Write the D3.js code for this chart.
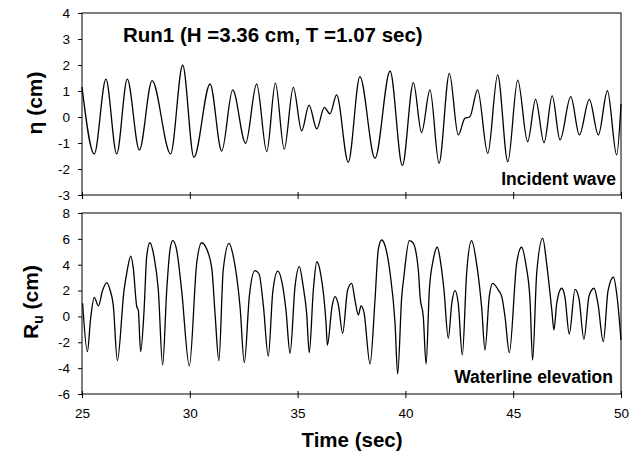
<!DOCTYPE html>
<html><head><meta charset="utf-8">
<script src="https://cdn.jsdelivr.net/npm/d3@7"></script>
<style>body{margin:0;background:#fff}svg{display:block}text{font-family:Arial,"Liberation Sans",sans-serif;fill:#000}</style>
</head><body><svg id="c" width="640" height="459"></svg>
<script>
// ---- data ----
const incidentTime = [25.0,25.57,26.11,26.61,27.10,27.66,28.25,29.11,29.67,30.19,30.94,31.48,31.99,32.59,33.10,33.57,33.97,34.38,34.80,35.19,35.53,35.89,36.24,36.50,36.81,37.35,37.89,38.59,39.29,39.86,40.37,40.75,41.14,41.56,42.04,42.45,42.76,42.99,43.35,43.82,44.28,44.75,45.21,45.67,46.04,46.43,46.81,47.17,47.67,48.07,48.53,48.95,49.37,49.80,50.0];
const incidentEta  = [1.15,-1.42,1.46,-1.42,1.46,-1.27,1.40,-1.42,2.0,-1.55,1.27,-1.31,1.04,-1.01,1.27,-1.33,1.30,-1.24,1.14,-0.53,0.46,-0.46,0.37,0.12,0.85,-1.74,1.55,-1.59,1.77,-1.87,1.32,-0.6,1.04,-1.78,1.68,-0.69,-0.05,0.01,1.04,-1.40,1.62,-1.72,1.42,-0.95,0.68,-0.99,0.81,-0.88,0.78,-0.69,0.68,-0.69,1.01,-1.46,0.5];

const runupTime = [25.03,25.25,25.40,25.57,25.76,25.96,26.15,26.30,26.45,26.64,26.95,27.10,27.26,27.38,27.54,27.61,27.72,27.88,28.00,28.15,28.34,28.54,28.74,28.93,29.08,29.21,29.39,29.62,29.98,30.32,30.55,30.70,31.02,31.17,31.35,31.55,31.82,32.02,32.33,32.53,32.76,33.02,33.21,33.41,33.64,33.85,34.08,34.28,34.46,34.65,34.88,35.08,35.26,35.42,35.54,35.73,35.89,36.07,36.32,36.38,36.60,36.74,36.89,37.09,37.32,37.51,37.66,37.82,37.94,38.08,38.36,38.59,38.74,38.90,39.05,39.29,39.52,39.64,39.83,39.93,40.18,40.35,40.60,40.68,40.83,40.96,41.11,41.29,41.48,41.64,41.79,41.99,42.15,42.30,42.45,42.64,42.84,43.07,43.30,43.54,43.69,43.89,44.05,44.31,44.47,44.62,44.82,45.16,45.39,45.59,45.78,45.90,46.09,46.37,46.55,46.79,46.89,47.02,47.25,47.40,47.60,47.87,48.05,48.28,48.52,48.75,48.93,49.18,49.40,49.65,49.82,50.0];
const runupRu   = [1.02,-2.73,-0.15,1.48,0.81,2.04,2.61,2.04,0.88,-3.42,2.04,3.59,4.67,3.72,0.75,0.5,-2.73,0.5,4.62,5.70,4.62,2.04,-3.76,2.04,5.14,5.86,5.14,2.04,-3.83,4.11,5.70,5.5,3.72,0.24,-3.42,3.59,5.65,4.62,0.75,-3.58,1.53,3.54,3.3,0.88,-3.06,1.92,3.51,2.6,0.5,-2.85,2.3,3.85,2.3,0.24,-2.80,2.04,4.23,3.3,-0.53,-2.21,0.8,1.53,0.9,-1.30,2.04,2.56,1.27,0.11,0.81,0.3,-3.68,1.27,5.14,5.91,5.5,3.34,-0.53,-4.45,1.53,3.08,5.86,5.7,3.59,1.53,-0.02,-3.68,2.04,4.37,5.35,4.11,2.04,-1.69,1.0,1.99,1.02,-2.98,3.34,5.86,4.11,0.63,-2.60,1.53,2.56,2.04,1.53,-0.02,-2.80,4.11,5.35,4.0,1.27,-3.37,3.34,6.04,4.11,0.5,-1.05,1.02,2.18,1.5,-1.36,2.10,1.4,-1.77,1.6,2.18,1.0,-1.95,2.0,3.03,1.5,-1.82];

const timeTicks = [25,30,35,40,45,50];
const etaTicks = [-3,-2,-1,0,1,2,3,4];
const ruTicks = [-6,-4,-2,0,2,4,6,8];

// ---- layout ----
const svg = d3.select("#c");
const X0 = 82, X1 = 621;
const x = d3.scaleLinear().domain([25,50]).range([X0,X1]);
const yTop = d3.scaleLinear().domain([-3,4]).range([195,13]);
const yBot = d3.scaleLinear().domain([-6,8]).range([394,213]);
const fmt = d => String(d);

function panel(y, ticks, times, vals, curve, showX){
  const g = svg.append("g");
  const [ylo, yhi] = y.range();
  g.append("rect").attr("x",X0).attr("y",yhi).attr("width",X1-X0).attr("height",ylo-yhi)
    .attr("fill","none").attr("stroke","#000").attr("stroke-width",1);
  const ya = g.append("g").attr("transform",`translate(${X0},0)`)
    .call(d3.axisLeft(y).tickValues(ticks).tickSize(4).tickPadding(8).tickFormat(fmt));
  ya.select(".domain").remove();
  ya.selectAll("text").attr("font-size",13.5).style("font-family","Arial, 'Liberation Sans', sans-serif");
  ya.selectAll("line").attr("stroke","#000");
  const xa = g.append("g").attr("transform",`translate(0,${ylo})`)
    .call(d3.axisBottom(x).tickValues(timeTicks).tickSize(4).tickPadding(10).tickFormat(fmt));
  xa.select(".domain").remove();
  xa.selectAll("line").attr("stroke","#000").attr("y1",-3);
  if(showX){ xa.selectAll("text").attr("font-size",13.5).style("font-family","Arial, 'Liberation Sans', sans-serif"); }
  else xa.selectAll("text").remove();
  const pts = times.map((t,i)=>[t,vals[i]]);
  g.append("path").datum(pts).attr("fill","none").attr("stroke","#000").attr("stroke-width",1.3)
    .attr("d", d3.line().x(d=>x(d[0])).y(d=>y(d[1])).curve(curve));
}
panel(yTop, etaTicks, incidentTime, incidentEta, d3.curveMonotoneX, false);
panel(yBot, ruTicks, runupTime, runupRu, d3.curveMonotoneX, true);

svg.append("text").attr("x",123).attr("y",42).attr("font-size",20.5).attr("font-weight","bold")
  .text("Run1 (H =3.36 cm, T =1.07 sec)");
svg.append("text").attr("x",616).attr("y",185).attr("font-size",17.5).attr("font-weight","bold")
  .attr("text-anchor","end").text("Incident wave");
svg.append("text").attr("x",613).attr("y",383).attr("font-size",17.5).attr("font-weight","bold")
  .attr("text-anchor","end").text("Waterline elevation");
svg.append("text").attr("transform","translate(42,103) rotate(-90)").attr("text-anchor","middle")
  .attr("font-size",21).attr("font-weight","bold").text("η (cm)");
const ru = svg.append("text").attr("transform","translate(38,302) rotate(-90)").attr("text-anchor","middle")
  .attr("font-size",21).attr("font-weight","bold");
ru.append("tspan").text("R");
ru.append("tspan").attr("font-size",14).attr("dy",5).text("u");
ru.append("tspan").attr("dy",-5).text(" (cm)");
svg.append("text").attr("x",352).attr("y",447).attr("text-anchor","middle")
  .attr("font-size",20.5).attr("font-weight","bold").text("Time (sec)");
</script></body></html>
